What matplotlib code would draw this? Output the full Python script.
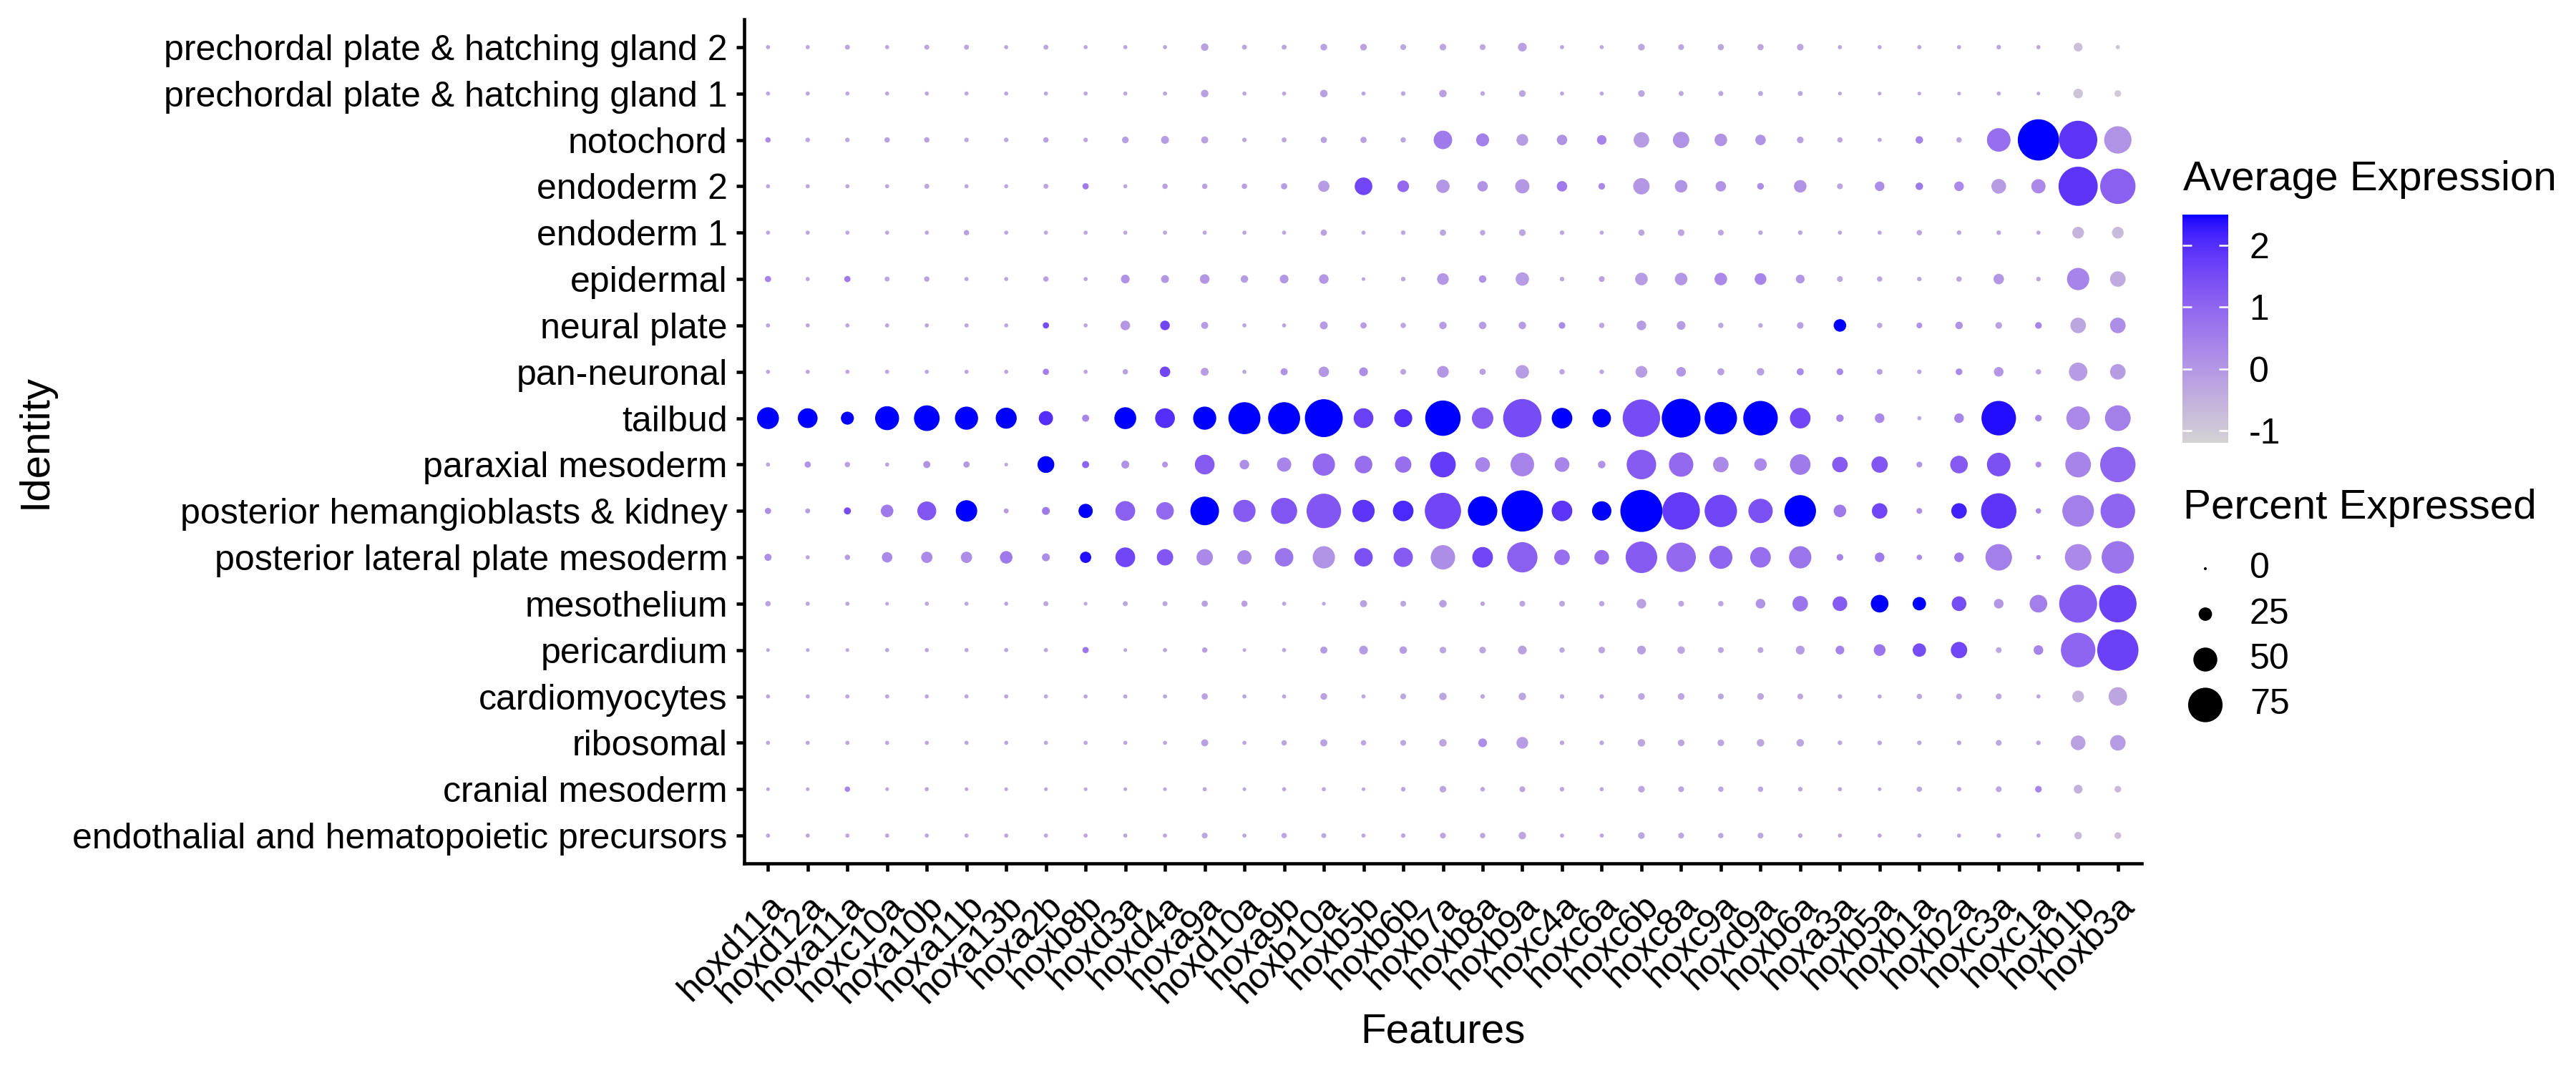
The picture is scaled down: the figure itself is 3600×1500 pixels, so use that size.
import numpy as np
import matplotlib
matplotlib.use("Agg")
import matplotlib.pyplot as plt
from matplotlib.colors import ListedColormap, Normalize
from matplotlib.colorbar import ColorbarBase

plt.rcParams['font.family'] = ['Liberation Sans', 'DejaVu Sans']
plt.rcParams['axes.unicode_minus'] = False

features = ["hoxd11a", "hoxd12a", "hoxa11a", "hoxc10a", "hoxa10b", "hoxa11b", "hoxa13b",
            "hoxa2b", "hoxb8b", "hoxd3a", "hoxd4a", "hoxa9a", "hoxd10a", "hoxa9b",
            "hoxb10a", "hoxb5b", "hoxb6b", "hoxb7a", "hoxb8a", "hoxb9a", "hoxc4a",
            "hoxc6a", "hoxc6b", "hoxc8a", "hoxc9a", "hoxd9a", "hoxb6a", "hoxa3a",
            "hoxb5a", "hoxb1a", "hoxb2a", "hoxc3a", "hoxc1a", "hoxb1b", "hoxb3a"]

# top to bottom
identities = ["prechordal plate & hatching gland 2", "prechordal plate & hatching gland 1",
              "notochord", "endoderm 2", "endoderm 1", "epidermal", "neural plate",
              "pan-neuronal", "tailbud", "paraxial mesoderm",
              "posterior hemangioblasts & kidney", "posterior lateral plate mesoderm",
              "mesothelium", "pericardium", "cardiomyocytes", "ribosomal",
              "cranial mesoderm", "endothalial and hematopoietic precursors"]

# percent of cells expressing, one row per identity
pct_expressed = [
    [3,3,5,3,5,5,3,5,3,3,3,11,5,5,9,9, 7,9,7,14,3,3,9,7,8,8,9,3,3,3,3,4,3,14,3],
    [3,3,3,3,3,3,3,3,3,3,3,11,3,3,11,3, 4,11,4,9,3,3,9,5,5,5,5,2,2,2,2,3,2,16,9],
    [6,4,4,6,6,4,4,6,4,9,12,10,4,5,8,8, 6,37,24,21,18,16,30,32,23,18,9,6,3,11,6,49,91,84,58],
    [3,3,3,3,5,3,3,5,8,3,6,6,6,8,20,35, 21,25,18,27,18,9,32,23,18,9,23,7,16,11,16,28,27,86,77],
    [3,3,3,3,3,6,3,3,3,3,3,3,3,3,8,3, 4,8,6,9,4,3,8,9,7,4,4,3,3,6,4,4,3,21,21],
    [8,3,8,5,6,3,3,6,3,14,12,16,11,14,16,2, 4,21,11,25,4,7,23,23,23,21,14,7,6,4,6,18,4,46,30],
    [3,3,3,3,3,3,3,8,3,16,16,10,3,3,12,8, 6,11,11,11,9,6,16,14,6,4,9,23,6,7,11,9,9,30,30],
    [3,3,3,3,3,3,3,8,3,6,18,12,3,10,18,14, 7,21,8,25,6,4,21,16,10,11,10,9,7,4,9,16,6,37,30],
    [45,40,24,50,54,48,43,27,10,45,40,48,69,69,83,40, 36,77,44,84,42,37,82,85,70,75,42,11,16,3,16,75,9,49,54],
    [3,8,6,3,10,8,2,33,10,12,7,40,16,27,46,35, 32,54,28,49,28,11,63,51,30,23,42,30,32,7,35,49,7,54,77],
    [8,5,10,23,38,44,5,12,27,40,35,61,46,55,75,46, 42,79,63,91,42,39,93,82,70,51,68,23,30,7,30,77,6,68,75],
    [10,3,6,18,20,20,23,12,20,40,32,32,27,37,46,37, 39,51,42,65,30,28,68,63,48,42,46,9,16,6,16,56,4,56,70],
    [6,3,3,2,3,3,3,5,2,5,5,8,8,3,2,10, 7,11,4,7,7,6,16,7,6,16,30,28,35,25,28,16,35,83,82],
    [2,2,2,3,3,3,3,3,8,2,3,6,2,3,10,14, 11,9,9,14,6,9,14,11,7,7,14,14,21,25,32,7,16,75,91],
    [3,3,3,3,3,3,3,3,3,3,3,8,3,3,9,3, 7,11,4,11,4,4,9,9,7,9,7,4,3,6,7,7,3,21,37],
    [3,3,3,3,3,3,3,3,3,3,3,10,3,6,10,6, 7,11,14,21,4,4,11,9,9,11,11,4,4,4,4,7,4,28,30],
    [2,2,6,2,3,2,2,2,2,2,2,3,2,3,3,2, 4,9,4,7,4,3,9,7,6,6,4,3,2,6,4,7,9,14,9],
    [3,3,3,3,3,3,3,3,3,3,3,7,3,6,5,3, 4,7,6,11,3,3,9,7,6,7,4,3,3,3,3,4,3,11,9],
]

# scaled average expression (clipped at 2.5)
avg_expression = [
    [-0.3,-0.3,-0.3,-0.3,-0.3,-0.3,-0.3,-0.3,-0.3,-0.3,-0.3,-0.2,-0.3,-0.3,-0.2,-0.2,
     -0.3,-0.3,-0.3,-0.2,-0.3,-0.3,-0.3,-0.3,-0.3,-0.3,-0.3,-0.3,-0.3,-0.3,-0.3,-0.3,-0.3,-0.8,-0.9],
    [-0.3,-0.3,-0.3,-0.3,-0.3,-0.3,-0.3,-0.3,-0.3,-0.3,-0.3,-0.2,-0.3,-0.3,-0.2,-0.3,
     -0.3,-0.2,-0.3,-0.3,-0.3,-0.3,-0.3,-0.3,-0.3,-0.3,-0.3,-0.3,-0.3,-0.3,-0.3,-0.3,-0.3,-0.9,-1.0],
    [0.3,-0.3,-0.3,-0.2,-0.2,-0.3,-0.3,-0.2,-0.3,-0.1,-0.1,-0.2,-0.3,-0.3,-0.2,-0.2,
     -0.3,0.6,0.5,-0.1,0.1,0.4,-0.1,0.1,0.1,0.1,-0.2,-0.3,-0.3,0.4,-0.3,0.8,2.5,1.9,0.1],
    [-0.3,-0.3,-0.3,-0.3,-0.3,-0.3,-0.3,-0.3,0.6,-0.3,-0.2,-0.2,-0.2,-0.1,-0.1,1.6,
     0.9,0.0,0.1,0.0,0.6,0.3,0.0,0.1,0.1,0.2,0.1,-0.3,0.2,0.6,0.3,-0.1,0.3,1.9,1.1],
    [-0.3,-0.3,-0.3,-0.3,-0.3,-0.2,-0.3,-0.3,-0.3,-0.3,-0.3,-0.3,-0.3,-0.3,-0.2,-0.3,
     -0.3,-0.3,-0.3,-0.3,-0.3,-0.3,-0.3,-0.3,-0.3,-0.3,-0.3,-0.3,-0.3,-0.3,-0.3,-0.3,-0.3,-0.6,-0.7],
    [0.4,-0.3,0.6,-0.3,-0.2,-0.3,-0.3,-0.2,-0.3,0.1,0.0,0.0,-0.1,0.0,0.0,-0.3,
     -0.3,0.0,0.1,-0.1,-0.3,-0.2,-0.1,0.0,0.3,0.4,0.0,-0.3,-0.3,-0.3,-0.3,0.0,-0.3,0.4,-0.4],
    [-0.3,-0.3,-0.3,-0.3,-0.3,-0.3,-0.3,1.5,-0.3,0.0,1.6,-0.1,-0.3,-0.3,-0.1,-0.1,
     -0.3,-0.1,-0.1,-0.1,0.3,-0.3,-0.1,-0.1,-0.3,-0.3,-0.2,2.5,-0.3,0.1,0.1,-0.2,0.4,-0.3,0.2],
    [-0.3,-0.3,-0.3,-0.3,-0.3,-0.3,-0.3,0.5,-0.3,-0.2,1.6,-0.1,-0.3,0.1,0.0,0.2,
     -0.3,0.0,-0.2,-0.1,-0.3,-0.3,-0.1,0.0,-0.2,-0.2,0.3,0.3,-0.2,-0.3,0.3,0.0,-0.3,-0.1,-0.1],
    [2.5,2.5,2.5,2.5,2.5,2.5,2.5,2.0,0.4,2.5,2.0,2.5,2.5,2.5,2.5,1.7,
     2.0,2.5,1.2,1.5,2.5,2.5,1.5,2.5,2.5,2.5,1.6,0.4,0.3,-0.3,0.4,2.4,0.3,0.3,0.5],
    [-0.3,0.1,-0.2,-0.3,0.1,0.0,-0.3,2.5,1.0,0.1,0.0,1.2,0.2,0.4,0.9,0.8,
     0.8,1.8,0.4,0.4,0.4,0.1,1.2,0.9,0.3,0.3,0.6,1.2,1.3,0.1,1.2,1.4,0.2,0.4,1.0],
    [0.2,-0.1,1.5,0.6,1.3,2.5,-0.1,0.6,2.5,1.1,0.9,2.5,1.2,1.3,1.3,1.9,
     2.1,1.6,2.5,2.5,1.9,2.5,2.5,1.8,1.6,1.4,2.5,0.6,1.6,0.2,2.2,1.9,0.3,0.5,1.0],
    [0.2,-0.3,-0.1,0.3,0.3,0.2,0.6,0.2,2.4,1.6,1.3,0.3,0.3,0.7,0.1,1.4,
     1.2,0.2,1.6,1.1,0.8,0.8,1.2,0.9,1.0,0.8,0.7,0.4,0.6,0.3,0.6,0.5,0.3,0.3,0.7],
    [-0.2,-0.3,-0.3,-0.3,-0.3,-0.3,-0.3,-0.3,-0.3,-0.3,-0.3,-0.2,-0.2,-0.3,-0.3,-0.2,
     -0.3,-0.2,-0.3,-0.3,-0.3,-0.3,-0.2,-0.3,-0.3,0.1,0.7,1.2,2.5,2.5,1.5,0.0,0.5,1.2,1.7],
    [-0.3,-0.3,-0.3,-0.3,-0.3,-0.3,-0.3,-0.3,0.7,-0.3,-0.3,-0.2,-0.3,-0.3,-0.1,-0.1,
     -0.1,-0.3,-0.3,-0.2,-0.3,-0.3,-0.2,-0.3,-0.3,-0.3,-0.1,0.4,0.7,1.5,1.6,-0.3,0.4,1.0,1.7],
    [-0.3,-0.3,-0.3,-0.3,-0.3,-0.3,-0.3,-0.3,-0.3,-0.3,-0.3,-0.2,-0.3,-0.3,-0.2,-0.3,
     -0.3,-0.3,-0.3,-0.3,-0.3,-0.3,-0.3,-0.3,-0.3,-0.3,-0.3,-0.3,-0.3,-0.3,-0.3,-0.3,-0.3,-0.6,-0.3],
    [-0.3,-0.3,-0.3,-0.3,-0.3,-0.3,-0.3,-0.3,-0.3,-0.3,-0.3,-0.2,-0.3,-0.3,-0.2,-0.3,
     -0.3,-0.3,0.2,-0.1,-0.3,-0.3,-0.3,-0.3,-0.3,-0.3,-0.3,-0.3,-0.3,-0.3,-0.3,-0.3,-0.3,-0.2,-0.1],
    [-0.3,-0.3,0.4,-0.3,-0.3,-0.3,-0.3,-0.3,-0.3,-0.3,-0.3,-0.3,-0.3,-0.3,-0.3,-0.3,
     -0.3,-0.3,-0.3,-0.3,-0.3,-0.3,-0.3,-0.3,-0.3,-0.3,-0.3,-0.3,-0.3,-0.3,-0.3,-0.3,0.4,-0.5,-0.7],
    [-0.3,-0.3,-0.3,-0.3,-0.3,-0.3,-0.3,-0.3,-0.3,-0.3,-0.3,-0.3,-0.3,-0.3,-0.3,-0.3,
     -0.3,-0.3,-0.3,-0.3,-0.3,-0.3,-0.3,-0.3,-0.3,-0.3,-0.3,-0.3,-0.3,-0.3,-0.3,-0.3,-0.3,-0.7,-0.8],
]

size_breaks = [0, 25, 50, 75]
colour_ticks = [-1, 0, 1, 2]
colour_range = (-1.2, 2.5)

DPI = 300
W, H = 3600, 1500


# ggplot-like gradient lightgrey -> blue, interpolated in Lab
def to_lab(rgb):
    c = np.asarray(rgb, float) / 255
    lin = np.where(c <= 0.04045, c / 12.92, ((c + 0.055) / 1.055) ** 2.4)
    M = np.array([[0.4124, 0.3576, 0.1805], [0.2126, 0.7152, 0.0722], [0.0193, 0.1192, 0.9505]])
    xyz = M @ lin / np.array([0.95047, 1.0, 1.08883])
    d = 6 / 29
    f = np.where(xyz > d ** 3, np.cbrt(xyz), xyz / (3 * d * d) + 4 / 29)
    return np.array([116 * f[1] - 16, 500 * (f[0] - f[1]), 200 * (f[1] - f[2])])


def from_lab(lab):
    L, a, b = lab
    fy = (L + 16) / 116
    fx = fy + a / 500
    fz = fy - b / 200
    d = 6 / 29
    f = np.array([fx, fy, fz])
    xyz = np.where(f > d, f ** 3, 3 * d * d * (f - 4 / 29)) * np.array([0.95047, 1.0, 1.08883])
    Minv = np.linalg.inv(np.array([[0.4124, 0.3576, 0.1805], [0.2126, 0.7152, 0.0722], [0.0193, 0.1192, 0.9505]]))
    lin = np.clip(Minv @ xyz, 0, 1)
    c = np.where(lin <= 0.0031308, 12.92 * lin, 1.055 * lin ** (1 / 2.4) - 0.055)
    return np.clip(c, 0, 1)


lo, hi = to_lab([211, 211, 211]), to_lab([0, 0, 255])
cmap = ListedColormap([from_lab(lo + (hi - lo) * t) for t in np.linspace(0, 1, 256)])
norm = Normalize(*colour_range)


def dot_size(p):
    diam_px = 4.0 + 0.59 * np.asarray(p, float)
    return (diam_px * 72 / DPI) ** 2


pct = np.array(pct_expressed, float)
avg = np.array(avg_expression, float)
n_id, n_ft = pct.shape

fig = plt.figure(figsize=(W / DPI, H / DPI), dpi=DPI)
ax = fig.add_axes([1040 / W, 1 - 1207 / H, (2993 - 1040) / W, (1207 - 27) / H])

xx, yy = np.meshgrid(np.arange(1, n_ft + 1), n_id - np.arange(n_id))
ax.scatter(xx.ravel(), yy.ravel(), s=dot_size(pct.ravel()), c=avg.ravel(),
           cmap=cmap, norm=norm, linewidths=0)

ax.set_xlim(0.4, n_ft + 0.6)
ax.set_ylim(0.4, n_id + 0.6)
ax.set_xticks(np.arange(1, n_ft + 1))
ax.set_xticklabels(features, rotation=45, ha='right', va='top', rotation_mode='anchor', fontsize=12)
ax.set_yticks(n_id - np.arange(n_id))
ax.set_yticklabels(identities, fontsize=12)
ax.tick_params(length=2.6, width=1.1, pad=3)
ax.tick_params(axis='x', pad=6)
for s in ['top', 'right']:
    ax.spines[s].set_visible(False)
for s in ['left', 'bottom']:
    ax.spines[s].set_linewidth(1.1)

fig.text(50 / W, 1 - 617 / H, "Identity", rotation=90, ha='center', va='center', fontsize=14)
fig.text(2016 / W, 1 - 1442 / H, "Features", ha='center', va='center', fontsize=14)

# colour legend
fig.text(3051 / W, 1 - 266 / H, "Average Expression", ha='left', va='baseline', fontsize=14)
cax = fig.add_axes([3050 / W, 1 - 619 / H, 64 / W, (619 - 300) / H])
cb = ColorbarBase(cax, cmap=cmap, norm=norm, ticks=colour_ticks)
cb.outline.set_visible(False)
cax.tick_params(axis='y', direction='in', left=True, right=True, color='white',
                length=3.2, width=0.6, labelsize=12, pad=7)

# size legend
fig.text(3051 / W, 1 - 725 / H, "Percent Expressed", ha='left', va='baseline', fontsize=14)
lax = fig.add_axes([0, 0, 1, 1])
lax.set_xlim(0, W)
lax.set_ylim(H, 0)
lax.axis('off')
leg_y = 795 + 63.5 * np.arange(len(size_breaks))
lax.scatter(np.full(len(size_breaks), 3082), leg_y, s=dot_size(size_breaks), color='black', linewidths=0)
for yv, lab in zip(leg_y, size_breaks):
    lax.text(3144, yv, str(lab), ha='left', va='center', fontsize=12)

fig.savefig("out.png", dpi=DPI)
